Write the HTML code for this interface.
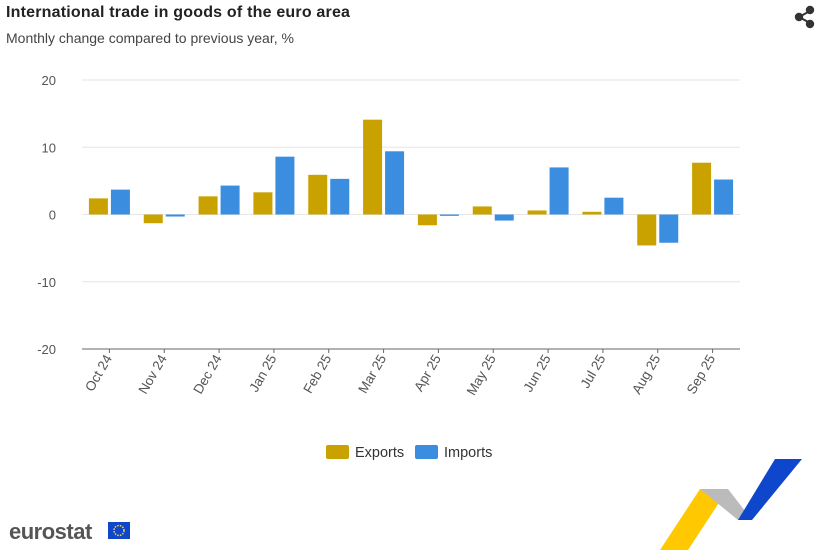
<!DOCTYPE html>
<html><head><meta charset="utf-8">
<style>
body{margin:0;width:823px;height:550px;background:#fff;font-family:"Liberation Sans",Arial,sans-serif;overflow:hidden;position:relative}
.title{position:absolute;left:6px;top:4px;font-size:16px;font-weight:bold;color:#222;letter-spacing:0.2px}
.sub{position:absolute;left:6px;top:30px;font-size:14px;color:#444}
svg text{font-family:"Liberation Sans",Arial,sans-serif}
</style></head><body>
<div class="title">International trade in goods of the euro area</div>
<div class="sub">Monthly change compared to previous year, %</div>
<svg id="chart" width="823" height="550" style="position:absolute;left:0;top:0">
  <g id="share" fill="#333" stroke="#333" stroke-width="2">
    <line x1="799" y1="17" x2="810" y2="11"/><line x1="799" y1="17" x2="810" y2="23"/>
    <circle cx="799" cy="17" r="3.2"/><circle cx="810" cy="10" r="3.2"/><circle cx="810" cy="24" r="3.2"/>
  </g>
  <g id="grid"></g><g id="bars"></g><g id="xlabels"></g>
  <g>
    <g><rect x="326" y="445" width="23" height="14" rx="2" fill="#caa200"/><text x="355" y="457" font-size="14.5" fill="#333">Exports</text></g>
    <g><rect x="415" y="445" width="23" height="14" rx="2" fill="#3b8de0"/><text x="444" y="457" font-size="14.5" fill="#333">Imports</text></g>
  </g>
  <g>
    <text x="9" y="539" font-size="22" font-weight="bold" fill="#555" letter-spacing="-0.5">eurostat</text>
    <rect x="108" y="522" width="22" height="17" fill="#0e47cb"/>
    <circle cx="119" cy="530.5" r="5" fill="none" stroke="#ffd617" stroke-width="1.5" stroke-dasharray="1.5 1.2"/>
  </g>
  <g>
    <polygon points="660,550 700,489 728,489 688,550" fill="#ffc800"/>
    <polygon points="700,489 728,489 752,520 738,520" fill="#bbb"/>
    <polygon points="738,520 752,520 802,459 775,459" fill="#0e47cb"/>
  </g>
</svg>
<script>
const categories=["Oct 24","Nov 24","Dec 24","Jan 25","Feb 25","Mar 25","Apr 25","May 25","Jun 25","Jul 25","Aug 25","Sep 25"];
const exportsVals=[2.4,-1.3,2.7,3.3,5.9,14.1,-1.6,1.2,0.6,0.4,-4.6,7.7];
const importsVals=[3.7,-0.3,4.3,8.6,5.3,9.4,-0.2,-0.9,7.0,2.5,-4.2,5.2];
const yTicks=[20,10,0,-10,-20];
const NS="http://www.w3.org/2000/svg";
const x0=82,x1=740,yTop=80,yBot=349,vMax=20,vMin=-20;
const y=v=>yTop+(vMax-v)/(vMax-vMin)*(yBot-yTop);
const bw=(x1-x0)/categories.length;
const cx=i=>x0+bw*(i+0.5);
function mk(t,a,p){const e=document.createElementNS(NS,t);for(const k in a)e.setAttribute(k,a[k]);p.appendChild(e);return e;}
const grid=document.getElementById('grid'),bars=document.getElementById('bars'),xl=document.getElementById('xlabels');
yTicks.forEach(t=>{
  const l=mk('line',{x1:x0,x2:x1,y1:y(t),y2:y(t),stroke:t===-20?'#666':'#e6e6e6','stroke-width':1},grid);
  
  
  const tx=mk('text',{x:56,y:y(t)+5,'font-size':13,fill:'#555','text-anchor':'end'},grid);
  tx.textContent=t;
  
  
});
const w=19,gap=3;
categories.forEach((c,i)=>{
  [[exportsVals[i],'#caa200',-1,'exports'],[importsVals[i],'#3b8de0',1,'imports']].forEach(([v,col,s,n])=>{
    const bx=s<0?cx(i)-gap/2-w:cx(i)+gap/2;
    const r=mk('rect',{x:bx,y:Math.min(y(v),y(0)),width:w,height:Math.abs(y(v)-y(0)),fill:col},bars);
    
    
  });
  const tk=mk('line',{x1:cx(i),x2:cx(i),y1:yBot,y2:yBot+4,stroke:'#666'},xl);
  
  
  const lx=cx(i)+3,ly=yBot+9;
  const t=mk('text',{x:lx,y:ly,'font-size':13.5,fill:'#555','text-anchor':'end',transform:`rotate(-60 ${lx} ${ly})`},xl);
  t.textContent=c;
  
  
});
</script>
</body></html>
